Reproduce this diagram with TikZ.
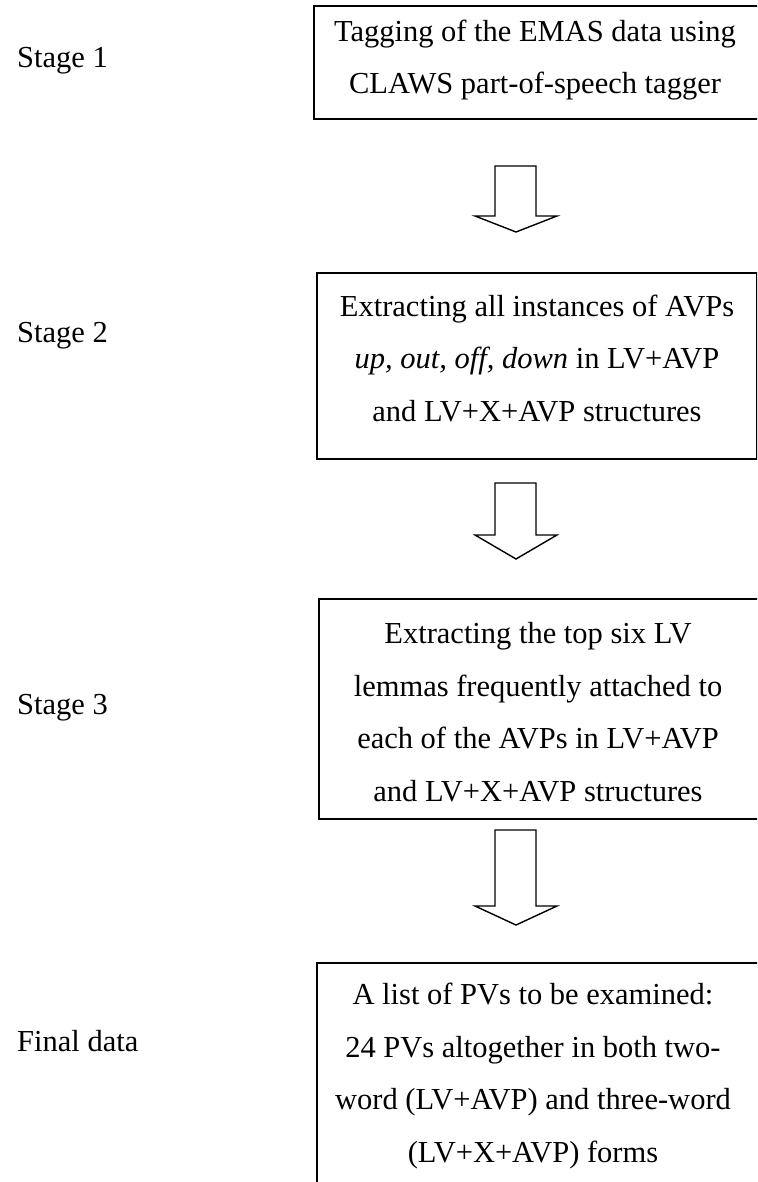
\documentclass[tikz,border=0pt]{standalone}
\usepackage{fontspec}
\setmainfont{Liberation Serif}
\begin{document}
\begin{tikzpicture}[x=1pt,y=-1pt,
  boxline/.style={draw=black,line width=1.7pt},
  txt/.style={align=center,font=\fontsize{30.5}{52.5}\selectfont,inner sep=0pt},
  lbl/.style={anchor=west,font=\fontsize{30.5}{36}\selectfont,inner sep=0pt},
  blockarrow/.style={draw=black,line width=1.4pt,line join=miter,fill=white}]
\useasboundingbox (0,0) rectangle (757,1182);
\clip (0,0) rectangle (757,1182);
% boxes
\node[boxline,minimum width=450pt,minimum height=113pt,anchor=north west] (r1) at (313,5) {};
\node[boxline,minimum width=440pt,minimum height=186pt,anchor=north west] (r2) at (316,272) {};
\node[boxline,minimum width=450pt,minimum height=220pt,anchor=north west] (r3) at (318,598) {};
\node[boxline,minimum width=460pt,minimum height=260pt,anchor=north west] (r4) at (316,962) {};
% labels
\node[lbl] (s1) at (17,61) {Stage 1};
\node[lbl] (s2) at (17,336) {Stage 2};
\node[lbl] (s3) at (17,708) {Stage 3};
\node[lbl] (s4) at (17,1041) {Final data};
% texts
\node[txt] (b1) at (535,60) {Tagging of the EMAS data using\\CLAWS part-of-speech tagger};
\node[txt] (b2) at (537,358) {Extracting all instances of AVPs\\\textit{up, out, off, down} in LV+AVP\\and LV+X+AVP structures};
\node[txt] (b3) at (538,712) {Extracting the top six LV\\lemmas frequently attached to\\each of the AVPs in LV+AVP\\and LV+X+AVP structures};
\node[txt] (b4) at (533,1076) {A list of PVs to be examined:\\24 PVs altogether in both two-\\word (LV+AVP) and three-word\\(LV+X+AVP) forms};
% block arrows
\foreach \t/\h/\p in {166/216/232, 483/535/559, 830/906/925}{
  \draw[blockarrow] (495,\t) -- (536,\t) -- (536,\h) -- (557,\h) -- (516,\p) -- (475,\h) -- (495,\h) -- cycle;
}
\end{tikzpicture}
\end{document}
